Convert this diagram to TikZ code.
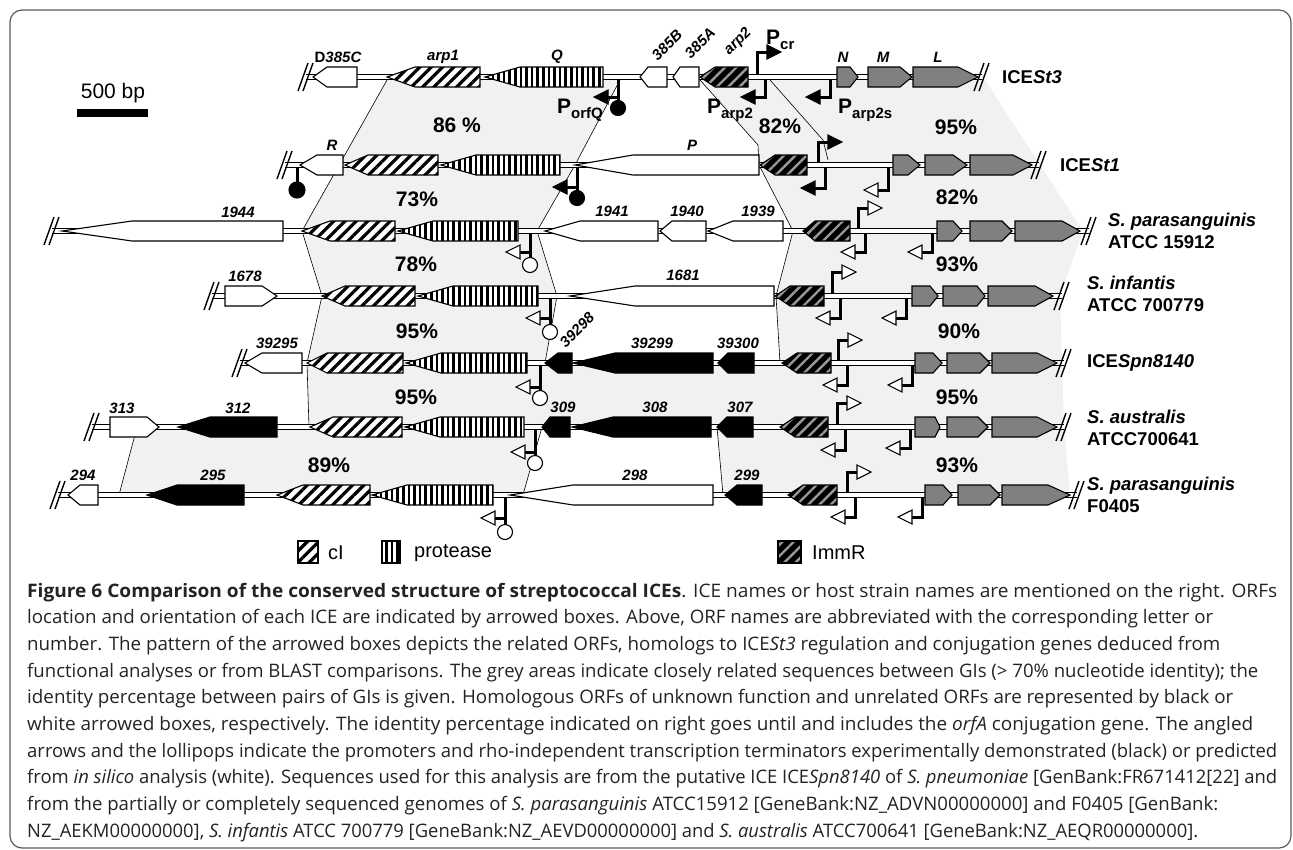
\documentclass[tikz,border=0pt]{standalone}
\usepackage{fontspec}
\usepackage{graphicx}
\setmainfont{Liberation Sans}
\newfontfamily\capfont{Open Sans}
\usetikzlibrary{patterns.meta}
\definecolor{shadegray}{RGB}{241,241,241}
\definecolor{geneg}{RGB}{128,128,128}
\definecolor{framec}{RGB}{90,90,90}
\definecolor{capc}{RGB}{35,35,35}
\newcommand\gL[5]{\path[#5] (#1,#4) -- (#2,#4-10) -- (#3,#4-10) -- (#3,#4+10) -- (#2,#4+10) -- cycle;}
\newcommand\gR[5]{\path[#5] (#1,#4-10) -- (#2,#4-10) -- (#3,#4) -- (#2,#4+10) -- (#1,#4+10) -- cycle;}
\newcommand\brk[2]{\draw[brkline] (#1-8,#2+14) -- (#1+2,#2-14) (#1-3,#2+14) -- (#1+7,#2-14);}
\newcommand\pUR[4]{\draw[prom] (#1,#2-3) -- (#1,#3) -- (#1+11,#3); \path[arr,fill=#4] (#1+10,#3-7) -- (#1+24,#3) -- (#1+10,#3+7) -- cycle;}
\newcommand\pDL[4]{\draw[prom] (#1,#2+3) -- (#1,#3) -- (#1-11,#3); \path[arr,fill=#4] (#1-10,#3-7) -- (#1-24,#3) -- (#1-10,#3+7) -- cycle;}
\newcommand\pTm[5]{\draw[prom] (#1,#2+3) -- (#1,#4) (#1,#3) -- (#1-11,#3); \path[arr,fill=#5] (#1-10,#3-7) -- (#1-24,#3) -- (#1-10,#3+7) -- cycle; \path[arr,fill=#5] (#1,#4) circle (7.5pt);}
\newcommand\nterm[4]{\draw[prom] (#1,#2+3) -- (#1,#3); \path[arr,fill=#4] (#1,#3) circle (8pt);}
\newcommand\Psub[1]{P\raisebox{-5pt}{\fontsize{15}{15}\selectfont #1}}
\newcommand\capline[2]{\resizebox{#1pt}{\height}{#2}}
\tikzset{
 gl/.style={draw=black, line width=1.1pt, line join=miter},
 wg/.style={gl, fill=white},
 bg/.style={gl, fill=black},
 gg/.style={gl, fill=geneg},
 cg/.style={gl, preaction={fill=white}, pattern={Lines[angle=45,distance=8pt,line width=3.2pt]}},
 pg/.style={gl, preaction={fill=white}, pattern={Lines[angle=90,distance=5.6pt,line width=2.6pt]}},
 ig/.style={gl, preaction={fill=black}, pattern={Lines[angle=45,distance=8pt,line width=2.4pt]}, pattern color=black!40},
 dna/.style={line width=1pt, double=white, double distance=3.6pt},
 brkline/.style={line width=1.4pt},
 prom/.style={line width=3pt, line join=miter},
 arr/.style={draw=black, line width=1.1pt, line join=miter},
 thin/.style={line width=0.6pt},
 glab/.style={font=\fontsize{15}{15}\selectfont\bfseries\itshape, inner sep=0},
 rlab/.style={font=\fontsize{15}{15}\selectfont\bfseries\itshape, inner sep=0, rotate=45},
 pct/.style={font=\fontsize{21}{21}\selectfont\bfseries, inner sep=0},
 icel/.style={font=\fontsize{18.5}{22}\selectfont\bfseries, anchor=west, align=left, inner sep=0},
 Pl/.style={font=\fontsize{21}{21}\selectfont\bfseries, anchor=base west, inner sep=0},
 leg/.style={font=\fontsize{20}{20}\selectfont, anchor=west, inner sep=0},
 captxt/.style={font=\capfont\fontsize{18.6}{21}\selectfont, text=capc, anchor=base west, inner sep=0},
 frame/.style={draw=framec, line width=1.2pt}
}
\begin{document}
\begin{tikzpicture}[x=1pt,y=-1pt]
\useasboundingbox (0,0) rectangle (1293,849);
\draw[frame, rounded corners=12pt] (10,10) rectangle (1291,848);
% shading
\fill[shadegray] (387,80) -- (985,80) -- (1083,231) -- (1060,296) -- (1062,363) -- (1064,427) -- (1070,495) -- (119,495) -- (137,427) -- (309,427) -- (307,363) -- (322,296) -- (302,231) -- cycle;
\fill[white] (620,80) -- (700,80) -- (758,145) -- (759,165) -- (793,231) -- (776,296) -- (780,363) -- (545,363) -- (557,296) -- (537,231) -- (575,165) -- cycle;
\fill[white] (542,427) -- (717,427) -- (723,495) -- (523,495) -- cycle;
% boundary lines
\draw[thin] (387,80) -- (302,231) -- (322,296) -- (307,363) -- (309,427);
\draw[thin] (620,80) -- (575,165) -- (537,231) -- (557,296) -- (545,363);
\draw[thin] (700,80) -- (758,145) -- (759,165) -- (793,231) -- (776,296) -- (780,363);
\draw[thin] (770,80) -- (823,140) -- (828,160);
\draw[thin] (137,427) -- (119,495);
\draw[thin] (542,427) -- (523,495);
\draw[thin] (717,427) -- (723,495);
% DNA lines
\draw[dna] (306,77) -- (982,77);
\draw[dna] (285,165) -- (1039,165);
\draw[dna] (52,231) -- (1089,231);
\draw[dna] (212,296) -- (1062,296);
\draw[dna] (240,363) -- (1064,363);
\draw[dna] (92,427) -- (1064,427);
\draw[dna] (58,495) -- (1077,495);
\brk{306}{77}\brk{982}{77}
\brk{285}{165}\brk{1039}{165}
\brk{52}{231}\brk{1089}{231}
\brk{212}{296}\brk{1062}{296}
\brk{240}{363}\brk{1064}{363}
\brk{92}{427}\brk{1064}{427}
\brk{58}{495}\brk{1077}{495}
% Row 1
\gL{313}{327}{357}{77}{wg}
\gL{387}{415}{480}{77}{cg}
\gL{485}{520}{603}{77}{pg}
\gL{640}{648}{667}{77}{wg}
\gL{673}{680}{699}{77}{wg}
\gL{700}{715}{748}{77}{ig}
\gR{837}{850}{858}{77}{gg}
\gR{868}{900}{912}{77}{gg}
\gR{913}{958}{978}{77}{gg}
% Row 2
\gL{300}{317}{343}{165}{wg}
\gL{345}{368}{438}{165}{cg}
\gL{441}{476}{560}{165}{pg}
\gL{575}{633}{759}{165}{wg}
\gL{760}{775}{807}{165}{ig}
\gR{893}{908}{920}{165}{gg}
\gR{925}{953}{967}{165}{gg}
\gR{970}{1013}{1032}{165}{gg}
% Row 3
\gL{62}{132}{283}{231}{wg}
\gL{302}{330}{395}{231}{cg}
\gL{398}{433}{518}{231}{pg}
\gL{545}{580}{658}{231}{wg}
\gL{660}{672}{706}{231}{wg}
\gL{708}{733}{783}{231}{wg}
\gL{803}{815}{850}{231}{ig}
\gR{937}{953}{962}{231}{gg}
\gR{970}{1002}{1012}{231}{gg}
\gR{1015}{1062}{1080}{231}{gg}
% Row 4
\gR{225}{262}{277}{296}{wg}
\gL{322}{345}{415}{296}{cg}
\gL{418}{453}{538}{296}{pg}
\gL{570}{635}{774}{296}{wg}
\gL{775}{790}{824}{296}{ig}
\gR{912}{930}{938}{296}{gg}
\gR{943}{977}{985}{296}{gg}
\gR{988}{1035}{1053}{296}{gg}
% Row 5
\gL{245}{262}{302}{363}{wg}
\gL{307}{327}{403}{363}{cg}
\gL{406}{441}{527}{363}{pg}
\gL{545}{558}{572}{363}{bg}
\gL{573}{615}{713}{363}{bg}
\gL{718}{728}{754}{363}{bg}
\gL{782}{797}{831}{363}{ig}
\gR{915}{933}{942}{363}{gg}
\gR{947}{980}{990}{363}{gg}
\gR{992}{1037}{1057}{363}{gg}
% Row 6
\gR{110}{147}{159}{427}{wg}
\gL{178}{210}{277}{427}{bg}
\gL{310}{333}{402}{427}{cg}
\gL{405}{440}{524}{427}{pg}
\gL{542}{550}{570}{427}{bg}
\gL{572}{613}{711}{427}{bg}
\gL{717}{727}{753}{427}{bg}
\gL{780}{795}{828}{427}{ig}
\gR{915}{935}{940}{427}{gg}
\gR{947}{978}{988}{427}{gg}
\gR{992}{1037}{1057}{427}{gg}
% Row 7
\gL{68}{80}{98}{495}{wg}
\gL{147}{177}{244}{495}{bg}
\gL{277}{303}{370}{495}{cg}
\gL{372}{407}{493}{495}{pg}
\gL{510}{573}{713}{495}{wg}
\gL{725}{737}{762}{495}{bg}
\gL{788}{803}{837}{495}{ig}
\gR{925}{943}{952}{495}{gg}
\gR{958}{990}{1000}{495}{gg}
\gR{1002}{1048}{1070}{495}{gg}
% promoters and terminators
\pTm{618}{77}{97}{108}{black}
\pUR{757}{77}{52}{black}
\pDL{765}{77}{97}{black}
\pDL{830}{77}{97}{black}
\nterm{297}{165}{190}{black}
\pTm{577}{165}{187}{198}{black}
\pUR{818}{165}{142}{black}
\pDL{825}{165}{188}{black}
\pDL{888}{165}{190}{white}
\pTm{530}{231}{252}{265}{white}
\pUR{858}{231}{208}{white}
\pDL{865}{231}{252}{white}
\pDL{932}{231}{252}{white}
\pTm{550}{296}{318}{332}{white}
\pUR{832}{296}{272}{white}
\pDL{840}{296}{318}{white}
\pDL{906}{296}{318}{white}
\pTm{540}{363}{387}{398}{white}
\pUR{838}{363}{340}{white}
\pDL{847}{363}{385}{white}
\pDL{912}{363}{385}{white}
\pTm{535}{427}{452}{463}{white}
\pUR{837}{427}{403}{white}
\pDL{845}{427}{450}{white}
\pDL{910}{427}{448}{white}
\pTm{505}{495}{518}{532}{white}
\pUR{847}{495}{472}{white}
\pDL{855}{495}{517}{white}
\pDL{922}{495}{517}{white}
% promoter labels
\node[Pl] (pcr) at (766,44) {\Psub{cr}};
\node[Pl] (porfq) at (557,113) {\Psub{orfQ}};
\node[Pl] (parp2) at (707,113) {\Psub{arp2}};
\node[Pl] (parp2s) at (838,113) {\Psub{arp2s}};
% gene labels
\node[glab] (l1) at (338,57) {\upshape D\itshape 385C};
\node[glab] (l2) at (443,57) {arp1};
\node[glab] (l3) at (557,57) {Q};
\node[glab] (l4) at (843,57) {N};
\node[glab] (l5) at (883,57) {M};
\node[glab] (l6) at (938,57) {L};
\node[rlab] (l7) at (667,45) {385B};
\node[rlab] (l8) at (700,43) {385A};
\node[rlab] (l9) at (738,42) {arp2};
\node[glab] (l10) at (332,145) {R};
\node[glab] (l11) at (692,145) {P};
\node[glab] (l12) at (238,212) {1944};
\node[glab] (l13) at (612,211) {1941};
\node[glab] (l14) at (687,211) {1940};
\node[glab] (l15) at (758,211) {1939};
\node[glab] (l16) at (245,276) {1678};
\node[glab] (l17) at (683,275) {1681};
\node[glab] (l18) at (277,343) {39295};
\node[rlab] (l19) at (577,330) {39298};
\node[glab] (l20) at (652,343) {39299};
\node[glab] (l21) at (738,343) {39300};
\node[glab] (l22) at (122,408) {313};
\node[glab] (l23) at (238,408) {312};
\node[glab] (l24) at (563,407) {309};
\node[glab] (l25) at (655,407) {308};
\node[glab] (l26) at (740,407) {307};
\node[glab] (l27) at (83,475) {294};
\node[glab] (l28) at (213,475) {295};
\node[glab] (l29) at (635,475) {298};
\node[glab] (l30) at (747,475) {299};
% percentages
\node[pct] (q1) at (457,125) {86 \%};
\node[pct] (q2) at (780,126) {82\%};
\node[pct] (q3) at (956,127) {95\%};
\node[pct] (q4) at (417,199) {73\%};
\node[pct] (q5) at (957,197) {82\%};
\node[pct] (q6) at (416,264) {78\%};
\node[pct] (q7) at (957,264) {93\%};
\node[pct] (q8) at (417,331) {95\%};
\node[pct] (q9) at (959,331) {90\%};
\node[pct] (q10) at (416,397) {95\%};
\node[pct] (q11) at (957,397) {95\%};
\node[pct] (q12) at (329,465) {89\%};
\node[pct] (q13) at (957,465) {93\%};
% ICE names
\node[icel] (i1) at (1002,77) {ICE\textit{St3}};
\node[icel] (i2) at (1060,165) {ICE\textit{St1}};
\node[icel] (i3) at (1108,231) {\textit{S. parasanguinis}\\ATCC 15912};
\node[icel] (i4) at (1087,294) {\textit{S. infantis}\\ATCC 700779};
\node[icel] (i5) at (1087,363) {ICE\textit{Spn8140}};
\node[icel] (i6) at (1087,428) {\textit{S. australis}\\ATCC700641};
\node[icel] (i7) at (1087,495) {\textit{S. parasanguinis}\\F0405};
% scale bar
\node[font=\fontsize{21}{21}\selectfont, inner sep=0] (sb) at (113,93) {500 bp};
\fill (77,109) rectangle (148,117);
% legend
\path[cg] (298,541) rectangle (318,563);
\node[leg] (lg1) at (328,553) {cI};
\path[pg] (382,541) rectangle (400,563);
\node[leg] (lg2) at (414,553) {protease};
\path[ig] (778,541) rectangle (801,563);
\node[leg] (lg3) at (812,553) {ImmR};
% caption
\node[captxt] (c1) at (27,597) {\capline{1250}{\textbf{Figure 6 Comparison of the conserved structure of streptococcal ICEs}. ICE names or host strain names are mentioned on the right. ORFs}};
\node[captxt] (c2) at (27,623.7) {\capline{1186}{location and orientation of each ICE are indicated by arrowed boxes. Above, ORF names are abbreviated with the corresponding letter or}};
\node[captxt] (c3) at (27,650.3) {\capline{1193}{number. The pattern of the arrowed boxes depicts the related ORFs, homologs to ICE\textit{St3} regulation and conjugation genes deduced from}};
\node[captxt] (c4) at (27,677) {\capline{1231}{functional analyses or from BLAST comparisons. The grey areas indicate closely related sequences between GIs (> 70\% nucleotide identity); the}};
\node[captxt] (c5) at (27,703.7) {\capline{1206}{identity percentage between pairs of GIs is given. Homologous ORFs of unknown function and unrelated ORFs are represented by black or}};
\node[captxt] (c6) at (27,730.3) {\capline{1226}{white arrowed boxes, respectively. The identity percentage indicated on right goes until and includes the \textit{orfA} conjugation gene. The angled}};
\node[captxt] (c7) at (27,757) {\capline{1250}{arrows and the lollipops indicate the promoters and rho-independent transcription terminators experimentally demonstrated (black) or predicted}};
\node[captxt] (c8) at (27,783.7) {\capline{1250}{from \textit{in silico} analysis (white). Sequences used for this analysis are from the putative ICE ICE\textit{Spn8140} of \textit{S. pneumoniae} [GenBank:FR671412[22] and}};
\node[captxt] (c9) at (27,810.3) {\capline{1191}{from the partially or completely sequenced genomes of \textit{S. parasanguinis} ATCC15912 [GeneBank:NZ\_ADVN00000000] and F0405 [GenBank:}};
\node[captxt] (c10) at (27,837) {\capline{1171}{NZ\_AEKM00000000], \textit{S. infantis} ATCC 700779 [GeneBank:NZ\_AEVD00000000] and \textit{S. australis} ATCC700641 [GeneBank:NZ\_AEQR00000000].}};
\end{tikzpicture}
\end{document}
